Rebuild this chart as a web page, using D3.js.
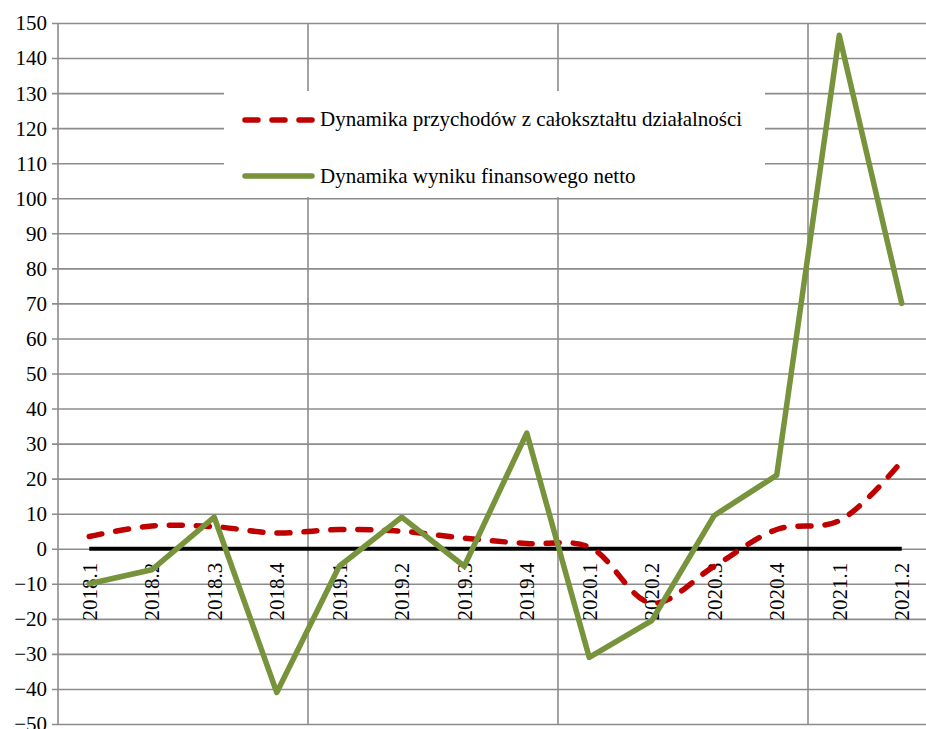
<!DOCTYPE html>
<html>
<head>
	<meta http-equiv="Content-Type" content="text/html;charset=UTF-8">
	<title>Dynamika</title>
	<style>
		body { margin: 0; background: #fff; }
		svg { display: block; }
		text { font-family: "Liberation Serif", "Times New Roman", serif; fill: #000; }
	</style>
</head>
<body>
	<div class="chart"></div>

	<script src="https://d3js.org/d3.v7.min.js"></script>
	<script>

		var quarters = ["2018.1","2018.2","2018.3","2018.4","2019.1","2019.2","2019.3","2019.4",
						"2020.1","2020.2","2020.3","2020.4","2021.1","2021.2"];

		var przychody = [3.5, 6.5, 6.3, 4.5, 5.5, 5, 3, 1.5, 0.5, -15.5, -5, 5.5, 8, 25];
		var wynik     = [-10, -6, 9, -41, -5, 9, -5, 33, -31, -20.5, 9.5, 21, 146.5, 70];
		var zero      = [0, 0, 0, 0, 0, 0, 0, 0, 0, 0, 0, 0, 0, 0];

		var yTicks = [-50,-40,-30,-20,-10,0,10,20,30,40,50,60,70,80,90,100,110,120,130,140,150];

		var legendLabels = ["Dynamika przychodów z całokształtu działalności",
							"Dynamika wyniku finansowego netto"];

		var w = 926;
		var h = 729;
		var pLeft = 58, pTop = 23, pBottom = 724;
		var band = 62.5;

		var SVG = d3.select("div.chart").append("svg")
					.attr("width", w)
					.attr("height", h);

		var xSCALE = d3.scaleBand()
						.domain(quarters)
						.range([pLeft, pLeft + band * quarters.length]);

		var ySCALE = d3.scaleLinear()
						.domain([-50, 150])
						.range([pBottom, pTop]);

		var cx = function(i){ return xSCALE(quarters[i]) + xSCALE.bandwidth() / 2; };

		/* horizontal gridlines + ticks on the left */
		var yAxis = d3.axisLeft(ySCALE)
					  .tickValues(yTicks)
					  .tickSize(-(xSCALE.range()[1] - pLeft))
					  .tickPadding(11)
					  .tickFormat(d3.format("d"));

		var gY = SVG.append("g")
			  .attr("transform", "translate(" + pLeft + ",0)")
			  .call(yAxis);
		gY.select(".domain").remove();
		gY.selectAll("line")
			.attr("x1", -6)
			.attr("stroke", "#8c8c8c")
			.attr("stroke-width", 1.6);
		gY.selectAll("text")
			.attr("font-size", "21px")
			.attr("font-family", "Liberation Serif")
			.attr("dy", "0.33em");

		/* vertical gridlines every 4 quarters */
		SVG.append("g").selectAll("line")
			.data(quarters.filter(function(d, i){ return i % 4 === 0; }))
			.enter()
			.append("line")
			.attr("x1", function(d){ return xSCALE(d); })
			.attr("x2", function(d){ return xSCALE(d); })
			.attr("y1", pTop)
			.attr("y2", pBottom)
			.attr("stroke", "#8c8c8c")
			.attr("stroke-width", 1.6);

		/* legend box (covers the grid) */
		SVG.append("rect")
			.attr("x", 224)
			.attr("y", 91)
			.attr("width", 541)
			.attr("height", 106)
			.attr("fill", "#fff");

		/* x labels, rotated */
		SVG.append("g").selectAll("text")
			.data(quarters)
			.enter()
			.append("text")
			.text(function(d){ return d; })
			.attr("transform", function(d, i){ return "translate(" + cx(i) + "," + (ySCALE(0) + 14) + ") rotate(-90)"; })
			.attr("text-anchor", "end")
			.attr("dy", "0.35em")
			.attr("font-size", "21px");

		/* zero line */
		var line = d3.line()
					 .x(function(d, i){ return cx(i); })
					 .y(function(d){ return ySCALE(d); });

		SVG.append("path")
			.datum(zero)
			.attr("d", line)
			.attr("fill", "none")
			.attr("stroke", "#000")
			.attr("stroke-width", 4);

		/* revenue, dashed, smoothed */
		var smooth = d3.line()
					 .x(function(d, i){ return cx(i); })
					 .y(function(d){ return ySCALE(d); })
					 .curve(d3.curveCatmullRom);

		SVG.append("path")
			.datum(przychody)
			.attr("d", smooth)
			.attr("fill", "none")
			.attr("stroke", "#c00000")
			.attr("stroke-width", 5.5)
			.attr("stroke-linecap", "round")
			.attr("stroke-dasharray", "13,14");

		/* net result */
		SVG.append("path")
			.datum(wynik)
			.attr("d", line)
			.attr("fill", "none")
			.attr("stroke", "#77933c")
			.attr("stroke-width", 5.5)
			.attr("stroke-linejoin", "round")
			.attr("stroke-linecap", "round");

		/* legend */
		var lg = SVG.append("g");
		lg.append("line")
			.attr("x1", 245).attr("x2", 312)
			.attr("y1", 120).attr("y2", 120)
			.attr("stroke", "#c00000")
			.attr("stroke-width", 5.5)
			.attr("stroke-linecap", "round")
			.attr("stroke-dasharray", "13,14");
		lg.append("line")
			.attr("x1", 245).attr("x2", 312)
			.attr("y1", 176).attr("y2", 176)
			.attr("stroke", "#77933c")
			.attr("stroke-width", 5.5)
			.attr("stroke-linecap", "round");
		lg.selectAll("text")
			.data(legendLabels)
			.enter()
			.append("text")
			.text(function(d){ return d; })
			.attr("x", 320)
			.attr("y", function(d, i){ return i === 0 ? 126 : 183; })
			.attr("font-size", "21px");

	</script>

</body>
</html>
